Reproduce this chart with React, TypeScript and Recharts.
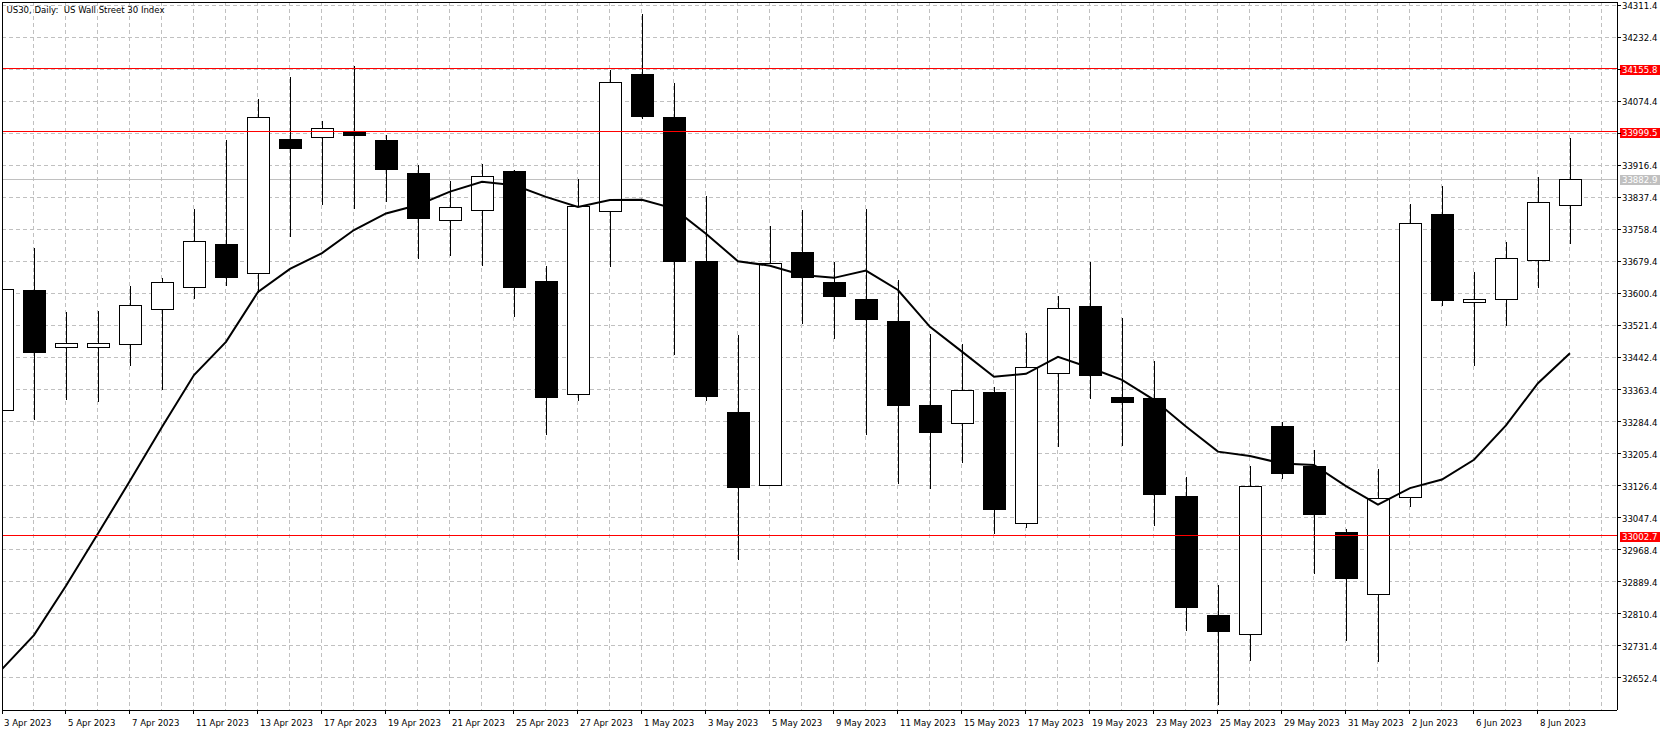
import React from 'react';
import { ComposedChart, XAxis, YAxis, CartesianGrid, Bar, Line, ReferenceLine } from 'recharts';

const dates = [
  '3 Apr 2023', '4 Apr 2023', '5 Apr 2023', '6 Apr 2023', '7 Apr 2023', '10 Apr 2023', '11 Apr 2023', '12 Apr 2023',
  '13 Apr 2023', '14 Apr 2023', '17 Apr 2023', '18 Apr 2023', '19 Apr 2023', '20 Apr 2023', '21 Apr 2023', '24 Apr 2023',
  '25 Apr 2023', '26 Apr 2023', '27 Apr 2023', '28 Apr 2023', '1 May 2023', '2 May 2023', '3 May 2023', '4 May 2023',
  '5 May 2023', '8 May 2023', '9 May 2023', '10 May 2023', '11 May 2023', '12 May 2023', '15 May 2023', '16 May 2023',
  '17 May 2023', '18 May 2023', '19 May 2023', '22 May 2023', '23 May 2023', '24 May 2023', '25 May 2023', '26 May 2023',
  '29 May 2023', '30 May 2023', '31 May 2023', '1 Jun 2023', '2 Jun 2023', '5 Jun 2023', '6 Jun 2023', '7 Jun 2023',
  '8 Jun 2023', '9 Jun 2023',
];

const opens = [
  33312.8, 33609, 33467.5, 33469, 33475, 33561, 33617, 33723, 33650, 33982,
  33986, 34002, 33979, 33898, 33781, 33806, 33903, 33631, 33352, 33803,
  34142, 34036, 33680, 33308, 33127, 33703, 33628, 33586, 33532, 33324,
  33280, 33356, 33035, 33403, 33570, 33345, 33342, 33101, 32807, 32761,
  33273, 33175, 33012, 32858, 33097, 33797, 33579, 33586, 33684, 33820,
];
const highs = [
  33640, 33712, 33554, 33557, 33619, 33638, 33809, 33979, 34080, 34136,
  34026, 34162, 33992, 33918, 33878, 33919, 33905, 33668, 33883, 34151,
  34291, 34121, 33841, 33499, 33767, 33807, 33678, 33808, 33634, 33500,
  33475, 33370, 33504, 33594, 33679, 33539, 33434, 33147, 32881, 33175,
  33282, 33214, 33020, 33167, 33821, 33865, 33654, 33728, 33889, 33984,
];
const lows = [
  33285, 33288, 33337.5, 33333, 33422, 33362, 33586, 33619, 33601, 33739,
  33819, 33810, 33827, 33686, 33693, 33668, 33543, 33252, 33334, 33665,
  34032, 33449, 33336, 32943, 33124, 33525, 33489, 33251, 33130, 33119,
  33182, 33006, 33022, 33221, 33340, 33225, 33026, 32768, 32585, 32694,
  33143, 32907, 32743, 32690, 33073, 33570, 33422, 33521, 33615, 33723,
];
const closes = [
  33610.8, 33457, 33477.4, 33477, 33571, 33628, 33729, 33642, 34035, 33960,
  34008, 33991, 33907, 33788, 33813, 33890, 33617, 33344, 33817, 34122,
  34039, 33680, 33348, 33123, 33676, 33641, 33595, 33537, 33324, 33259,
  33361, 33069, 33418, 33564, 33400, 33333, 33106, 32827, 32766, 33124,
  33158, 33057, 32899, 33096, 33774, 33585, 33588, 33689, 33826, 33882.9,
];
const movingAverage = [
  32673, 32757, 32879, 33008, 33138, 33271, 33399, 33481, 33604, 33661,
  33700, 33757, 33798, 33819, 33852, 33876, 33868, 33839, 33814, 33831,
  33832, 33810, 33748, 33680, 33669, 33646, 33639, 33657, 33609, 33518,
  33457, 33395, 33402, 33444, 33417, 33387, 33338, 33272, 33210, 33199,
  33181, 33177, 33125, 33079, 33120, 33141, 33190, 33275, 33379, 33453,
];

const yTicks = [
  34311.4, 34232.4, 34153.4, 34074.4, 33995.4, 33916.4, 33837.4, 33758.4, 33679.4, 33600.4, 33521.4,
  33442.4, 33363.4, 33284.4, 33205.4, 33126.4, 33047.4, 32968.4, 32889.4, 32810.4, 32731.4, 32652.4,
];
const redLevels = [34155.8, 33999.5, 33002.7];
const bidPrice = 33882.9;
const title = 'US30, Daily:  US Wall Street 30 Index';

const Y_MIN = 32572.2;
const Y_MAX = 34320.0;
const X_MAX = 50.47;

const FONT = "'DejaVu Sans Condensed', 'Liberation Sans', sans-serif";
const FS = 9.5;

const data = dates.map((d, i) => ({
  i,
  date: d,
  o: opens[i],
  h: highs[i],
  l: lows[i],
  c: closes[i],
  range: [lows[i], highs[i]],
  ma: movingAverage[i],
}));

const xTicks = dates.map((_, i) => i).filter((i) => i % 2 === 0);
const gridX = Array.from({ length: dates.length + 1 }, (_, i) => i);
const tagPrices = [...redLevels, bidPrice];

const Candle = (props: any) => {
  const { x, y, width, height, payload } = props;
  if (payload == null || x == null) return null;
  const { o, h, l, c } = payload;
  const top = Math.min(y, y + height);
  const span = Math.abs(height);
  const ratio = span / (h - l);
  const cx = Math.round(x + width / 2) + 0.5;
  const bTop = Math.round(top + (h - Math.max(o, c)) * ratio);
  const bBot = Math.round(top + (h - Math.min(o, c)) * ratio);
  const up = c >= o;
  return (
    <g>
      <line x1={cx} x2={cx} y1={top} y2={top + span} stroke="#000" strokeWidth={1} />
      <rect
        x={cx - 11}
        y={bTop + 0.5}
        width={22}
        height={Math.max(1, bBot - bTop)}
        fill={up ? '#fff' : '#000'}
        stroke="#000"
        strokeWidth={1}
      />
    </g>
  );
};

const XTick = (props: any) => {
  const { x, y, payload } = props;
  return (
    <text x={x + 2} y={y + 9.5} fontSize={FS} fontFamily={FONT} fill="#000">
      {dates[payload.value]}
    </text>
  );
};

const YTick = (props: any) => {
  const { x, y, payload } = props;
  const v = payload.value as number;
  if (tagPrices.some((t) => Math.abs(t - v) < 20)) return null;
  return (
    <text x={x - 1} y={y + 4} fontSize={FS} fontFamily={FONT} fill="#000">
      {v.toFixed(1)}
    </text>
  );
};

const PriceTag = (props: any) => {
  const { viewBox, value, bg } = props;
  if (!viewBox) return null;
  const x = viewBox.x + viewBox.width + 3;
  const y = viewBox.y;
  return (
    <g>
      <rect x={x} y={Math.round(y) - 4} width={40} height={10} fill={bg} />
      <text x={x + 2} y={Math.round(y) + 4} fontSize={FS} fontFamily={FONT} fill="#fff">
        {value.toFixed(1)}
      </text>
    </g>
  );
};

export default function App() {
  return (
    <div style={{ position: 'relative', width: 1670, height: 731, background: '#fff', overflow: 'hidden' }}>
      <style>{`body{margin:0;} .recharts-wrapper svg line, .recharts-wrapper svg rect { shape-rendering: crispEdges; }`}</style>
      <ComposedChart
        width={1670}
        height={731}
        data={data}
        margin={{ top: 2, right: 0, bottom: 0, left: 2 }}
      >
        <CartesianGrid vertical={false} stroke="#c0c0c0" strokeDasharray="4 3" />
        <CartesianGrid horizontal={false} xAxisId="grid" stroke="#c0c0c0" strokeDasharray="4 3" />
        <CartesianGrid vertical={false} yAxisId="bid" stroke="#c0c0c0" />
        <XAxis
          type="number"
          dataKey="i"
          domain={[0, X_MAX]}
          ticks={xTicks}
          interval={0}
          allowDataOverflow
          height={21}
          tickSize={4}
          tickMargin={2}
          axisLine={{ stroke: '#000' }}
          tickLine={{ stroke: '#000' }}
          tick={<XTick />}
        />
        <XAxis
          xAxisId="grid"
          type="number"
          dataKey="i"
          domain={[0, X_MAX]}
          ticks={gridX}
          interval={0}
          allowDataOverflow
          hide
        />
        <YAxis
          type="number"
          orientation="right"
          domain={[Y_MIN, Y_MAX]}
          ticks={yTicks}
          interval={0}
          allowDataOverflow
          width={53}
          tickSize={4}
          tickMargin={2}
          axisLine={{ stroke: '#000' }}
          tickLine={{ stroke: '#000' }}
          tick={<YTick />}
        />
        <YAxis
          yAxisId="bid"
          type="number"
          orientation="right"
          domain={[Y_MIN, Y_MAX]}
          ticks={[bidPrice]}
          interval={0}
          allowDataOverflow
          hide
        />
        <ReferenceLine
          y={bidPrice}
          stroke="none"
          label={<PriceTag value={bidPrice} bg="#c0c0c0" />}
        />
        <Bar dataKey="range" barSize={22} shape={<Candle />} isAnimationActive={false} />
        <Line
          type="linear"
          dataKey="ma"
          stroke="#000"
          strokeWidth={2}
          dot={false}
          activeDot={false}
          isAnimationActive={false}
        />
        {redLevels.map((lv) => (
          <ReferenceLine
            key={'r' + lv}
            y={lv}
            stroke="#ff0000"
            strokeWidth={1}
            label={<PriceTag value={lv} bg="#ff0000" />}
          />
        ))}
        <ReferenceLine y={Y_MAX} stroke="#000" ifOverflow="visible" />
        <ReferenceLine x={0} stroke="#000" ifOverflow="visible" />
      </ComposedChart>
      <div
        style={{
          position: 'absolute',
          left: 6.5,
          top: 4.5,
          fontFamily: FONT,
          fontSize: FS,
          lineHeight: 1,
          whiteSpace: 'pre',
          color: '#000',
        }}
      >
        {title}
      </div>
    </div>
  );
}
